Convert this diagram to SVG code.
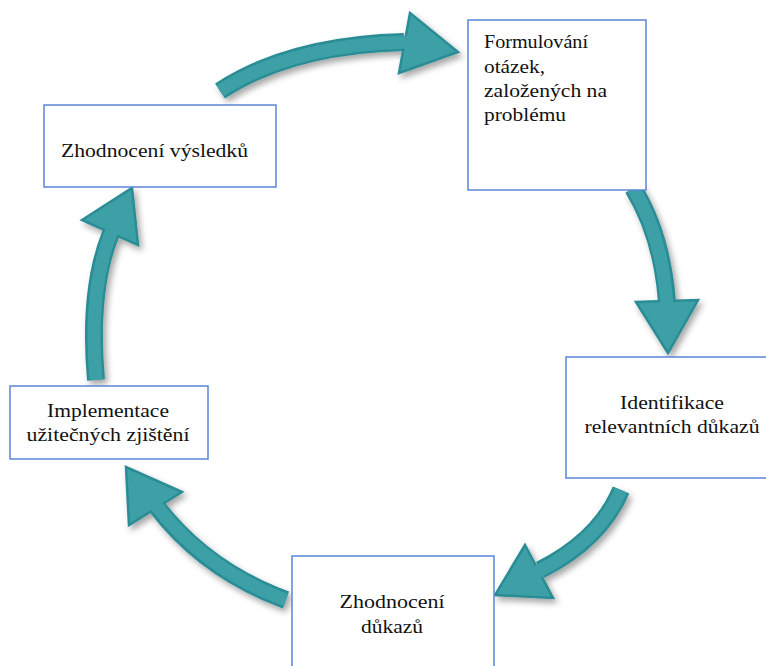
<svg xmlns="http://www.w3.org/2000/svg" width="766" height="666" viewBox="0 0 766 666">
<style>
.box{fill:#fff;stroke:#5b85d6;stroke-width:1.5}
.t{font-family:"Liberation Serif","DejaVu Serif",serif;font-size:18px;fill:#111}
.c{text-anchor:middle}
.sh-o{fill:none;stroke:#2a8d95;stroke-width:18;stroke-linecap:butt}
.sh-i{fill:none;stroke:#3da0a7;stroke-width:13;stroke-linecap:butt}
.hd{fill:#3da0a7;stroke:#2a8d95;stroke-width:2.5;stroke-linejoin:miter}
</style>
<defs>
<filter id="shadow" x="-20%" y="-20%" width="140%" height="140%">
<feDropShadow dx="3" dy="4" stdDeviation="3" flood-color="#000" flood-opacity="0.35"/>
</filter>
</defs>
<rect width="766" height="666" fill="#fff"/>
<g id="connectors" filter="url(#shadow)">
<g id="a1">
<path class="sh-o" d="M 220 91 Q 290 45 404 42"/>
<polygon class="hd" points="410,13 458,52 399,73"/>
<path class="sh-i" d="M 220 91 Q 290 45 407 42"/>
</g>
<g id="a2">
<path class="sh-o" d="M 633 188 Q 662 235 667 302"/>
<polygon class="hd" points="636,302 668,353 698,300"/>
<path class="sh-i" d="M 633 188 Q 662 235 667 305"/>
</g>
<g id="a3">
<path class="sh-o" d="M 621 490 Q 600 540 540 570"/>
<polygon class="hd" points="525,545 495,595 553,598"/>
<path class="sh-i" d="M 621 490 Q 600 540 537 572"/>
</g>
<g id="a4">
<path class="sh-o" d="M 286 600 Q 205 570 157 507"/>
<polygon class="hd" points="182,492 126,467 129,525"/>
<path class="sh-i" d="M 286 600 Q 205 570 155 504"/>
</g>
<g id="a5">
<path class="sh-o" d="M 96 380 Q 88 290 111 233"/>
<polygon class="hd" points="82,220 132,188 138,245"/>
<path class="sh-i" d="M 96 380 Q 88 290 112 230"/>
</g>
</g>
<g id="n1">
<rect class="box" x="468" y="20" width="178" height="170"/>
<text class="t" x="484" y="48" textLength="104" lengthAdjust="spacingAndGlyphs">Formulování</text>
<text class="t" x="484" y="73" textLength="61" lengthAdjust="spacingAndGlyphs">otázek,</text>
<text class="t" x="484" y="97" textLength="123" lengthAdjust="spacingAndGlyphs">založených na</text>
<text class="t" x="484" y="121" textLength="82" lengthAdjust="spacingAndGlyphs">problému</text>
</g>
<g id="n2">
<rect class="box" x="566" y="357" width="205" height="121"/>
<text class="t c" x="672" y="409" textLength="104" lengthAdjust="spacingAndGlyphs">Identifikace</text>
<text class="t c" x="672" y="433" textLength="175" lengthAdjust="spacingAndGlyphs">relevantních důkazů</text>
</g>
<g id="n3">
<rect class="box" x="292" y="556" width="202" height="120"/>
<text class="t c" x="392" y="608" textLength="105" lengthAdjust="spacingAndGlyphs">Zhodnocení</text>
<text class="t c" x="392" y="633" textLength="62" lengthAdjust="spacingAndGlyphs">důkazů</text>
</g>
<g id="n4">
<rect class="box" x="10" y="386" width="198" height="73"/>
<text class="t c" x="108" y="417" textLength="122" lengthAdjust="spacingAndGlyphs">Implementace</text>
<text class="t c" x="108" y="441" textLength="163" lengthAdjust="spacingAndGlyphs">užitečných zjištění</text>
</g>
<g id="n5">
<rect class="box" x="44" y="105" width="232" height="82"/>
<text class="t" x="61" y="157" textLength="187" lengthAdjust="spacingAndGlyphs">Zhodnocení výsledků</text>
</g>
</svg>
